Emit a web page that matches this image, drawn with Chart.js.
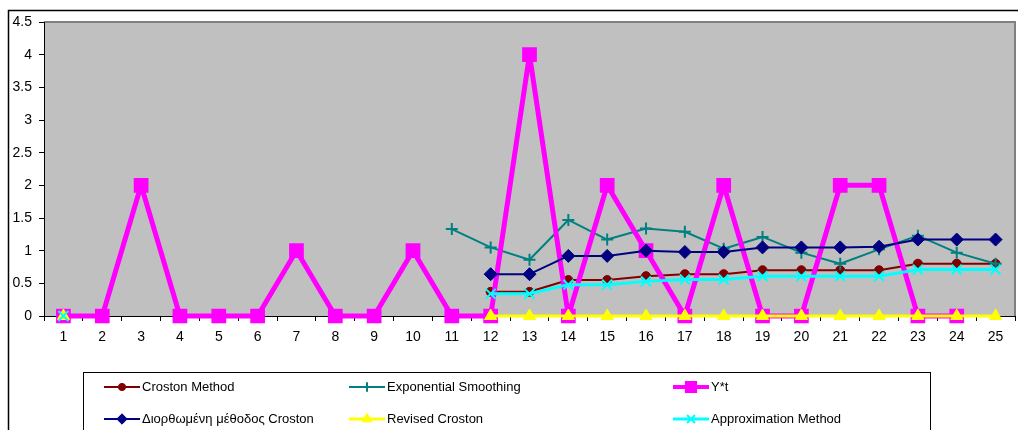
<!DOCTYPE html>
<html>
<head>
<meta charset="utf-8">
<script src="https://cdn.jsdelivr.net/npm/chart.js@4.4.0/dist/chart.umd.min.js"></script>
<style>
  html, body { margin: 0; padding: 0; background: #ffffff; overflow: hidden; }
  #wrap { width: 1018px; height: 430px; position: relative; overflow: hidden; }
  canvas { display: block; }
</style>
</head>
<body>
<div id="wrap"><canvas id="c" width="1026" height="430"></canvas></div>
<script>
// Periods 1..25
const periods = ['1','2','3','4','5','6','7','8','9','10','11','12','13','14','15','16','17','18','19','20','21','22','23','24','25'];

// Forecast series (null = no forecast for that period)
const crostonMethod = [null,null,null,null,null,null,null,null,null,null,null,
  0.37,0.37,0.55,0.55,0.61,0.64,0.64,0.70,0.70,0.70,0.70,0.80,0.80,0.80];
const exponentialSmoothing = [null,null,null,null,null,null,null,null,null,null,
  1.33,1.05,0.86,1.47,1.17,1.34,1.29,1.03,1.21,0.97,0.80,1.02,1.23,0.97,0.80];
const demand = [0,0,2,0,0,0,1,0,0,1,0,0,4,0,2,1,0,2,0,0,2,2,0,0,null];
const correctedCroston = [null,null,null,null,null,null,null,null,null,null,null,
  0.64,0.64,0.92,0.92,1.00,0.98,0.98,1.05,1.05,1.05,1.06,1.17,1.17,1.17];
const revisedCroston = [0,null,null,null,null,null,null,null,null,null,null,
  0,0,0,0,0,0,0,0,0,0,0,0,0,0];
const approximationMethod = [0,null,null,null,null,null,null,null,null,null,null,
  0.34,0.34,0.48,0.48,0.53,0.56,0.56,0.61,0.61,0.61,0.61,0.71,0.71,0.71];

// Value axis ticks
const yTicks = [0,0.5,1,1.5,2,2.5,3,3.5,4,4.5];

const FONT = "'Liberation Sans', Arial, sans-serif";

const series = [
  { label: 'Croston Method', data: crostonMethod, color: '#800000', width: 2, style: 'circle', radius: 4.5, pbw: 1 },
  { label: 'Exponential Smoothing', data: exponentialSmoothing, color: '#008080', width: 2, style: 'cross', radius: 6, pbw: 2 },
  { label: 'Y*t', data: demand, color: '#FF00FF', width: 5, style: 'rect', radius: 9, pbw: 2 },
  { label: 'Διορθωμένη μέθοδος Croston', data: correctedCroston, color: '#000080', width: 2, style: 'rectRot', radius: 6.5, pbw: 1 },
  { label: 'Revised Croston', data: revisedCroston, color: '#FFFF00', width: 3, style: 'triangle', radius: 7, pbw: 1 },
  { label: 'Approximation Method', data: approximationMethod, color: '#00FFFF', width: 3, style: 'crossRot', radius: 7, pbw: 2 }
];

// Grey plot area, outer frame and plot border
const backdrop = {
  id: 'backdrop',
  beforeDraw(chart) {
    const { ctx, chartArea: a } = chart;
    ctx.save();
    ctx.fillStyle = '#ffffff';
    ctx.fillRect(0, 0, chart.width, chart.height);
    ctx.strokeStyle = '#000000';
    ctx.lineWidth = 1.5;
    ctx.beginPath();
    ctx.moveTo(8.5, chart.height + 2);
    ctx.lineTo(8.5, 10.5);
    ctx.lineTo(chart.width + 2, 10.5);
    ctx.stroke();
    ctx.fillStyle = '#C0C0C0';
    ctx.fillRect(a.left, a.top, a.right - a.left, a.bottom - a.top);
    ctx.strokeStyle = '#808080';
    ctx.lineWidth = 2;
    ctx.beginPath();
    ctx.moveTo(a.left, a.top);
    ctx.lineTo(a.right, a.top);
    ctx.lineTo(a.right, a.bottom);
    ctx.stroke();
    ctx.restore();
  }
};

// Boxed legend with line + marker samples, two rows of three
const boxLegend = {
  id: 'boxLegend',
  afterDraw(chart) {
    const ctx = chart.ctx;
    ctx.save();
    ctx.strokeStyle = '#000000';
    ctx.lineWidth = 1;
    ctx.strokeRect(83.5, 372.5, 847, 80);
    const cols = [104, 349, 673];
    const rows = [387, 419];
    ctx.font = '13px ' + FONT;
    ctx.textBaseline = 'middle';
    ctx.textAlign = 'left';
    series.forEach((s, i) => {
      const x = cols[i % 3];
      const y = rows[Math.floor(i / 3)];
      const len = 36;
      ctx.strokeStyle = s.color;
      ctx.lineWidth = Math.min(s.width, 4);
      ctx.beginPath();
      ctx.moveTo(x, y);
      ctx.lineTo(x + len, y);
      ctx.stroke();
      ctx.fillStyle = s.color;
      ctx.strokeStyle = s.color;
      ctx.lineWidth = s.pbw;
      Chart.helpers.drawPoint(ctx, { pointStyle: s.style, radius: s.radius * 0.8, borderWidth: s.pbw, rotation: 0 }, x + len / 2, y);
      ctx.fillStyle = '#000000';
      ctx.fillText(s.label, x + len + 2, y);
    });
    ctx.restore();
  }
};

new Chart(document.getElementById('c'), {
  type: 'line',
  data: {
    labels: periods,
    datasets: series.map((s, i) => ({
      label: s.label,
      data: s.data,
      borderColor: s.color,
      backgroundColor: s.color,
      borderWidth: s.width,
      borderJoinStyle: 'round',
      pointStyle: s.style,
      pointRadius: s.radius,
      pointBorderWidth: s.pbw,
      pointBackgroundColor: s.color,
      pointBorderColor: s.color,
      tension: 0,
      spanGaps: false,
      clip: false,
      order: series.length - i
    }))
  },
  options: {
    responsive: false,
    devicePixelRatio: 1,
    animation: false,
    layout: { padding: { left: 0, top: 22, right: 0, bottom: 0 } },
    plugins: { legend: { display: false }, tooltip: { enabled: false } },
    scales: {
      x: {
        type: 'category',
        offset: true,
        grid: { display: true, drawOnChartArea: false, drawTicks: true, tickLength: 5, color: '#000000', offset: true },
        border: { display: true, color: '#000000', width: 1 },
        ticks: { color: '#000000', font: { family: FONT, size: 14 }, padding: 8, maxRotation: 0, autoSkip: false },
        afterFit(scale) {
          scale.height = 114;
          scale.paddingLeft = 0;
          scale.paddingRight = 0;
        }
      },
      y: {
        min: 0,
        max: 4.5,
        grid: { display: true, drawOnChartArea: false, drawTicks: true, tickLength: 5, color: '#000000' },
        border: { display: true, color: '#000000', width: 1 },
        ticks: { color: '#000000', font: { family: FONT, size: 14 }, padding: 7, stepSize: 0.5, callback: v => String(v) },
        afterBuildTicks(scale) { scale.ticks = yTicks.map(v => ({ value: v })); },
        afterFit(scale) {
          scale.width = 44;
          scale.paddingTop = 0;
          scale.paddingBottom = 0;
        }
      }
    }
  },
  plugins: [backdrop, boxLegend]
});
</script>
</body>
</html>
